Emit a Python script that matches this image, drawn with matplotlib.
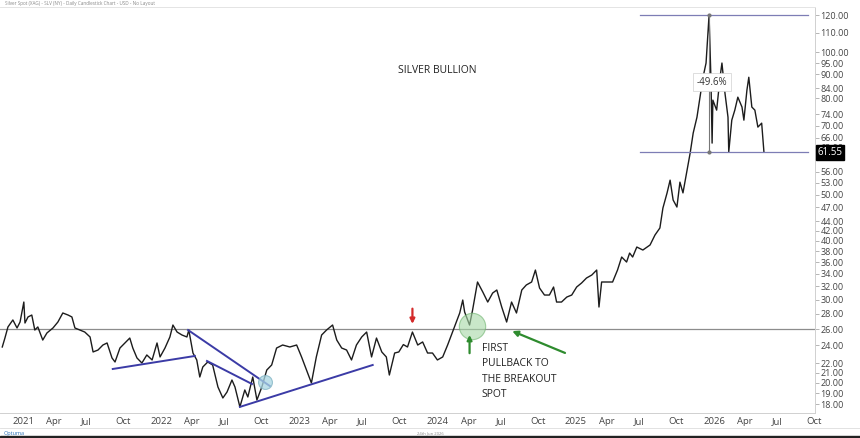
import matplotlib
matplotlib.use('Agg')
import matplotlib.pyplot as plt
import pandas as pd
from matplotlib.ticker import FixedLocator, FuncFormatter, NullLocator
from matplotlib.lines import Line2D
from matplotlib.patches import Rectangle

plt.rcParams['font.family'] = ['Open Sans', 'DejaVu Sans']

# ---- price path ----
dates = [
    '2020-12-06', '2020-12-13', '2020-12-21', '2021-01-03', '2021-01-14', '2021-01-22', '2021-02-01', '2021-02-04',
    '2021-02-12', '2021-02-22', '2021-03-02', '2021-03-10', '2021-03-23', '2021-04-03', '2021-04-19', '2021-05-02',
    '2021-05-15', '2021-05-29', '2021-06-08', '2021-06-16', '2021-06-29', '2021-07-12', '2021-07-26', '2021-08-03',
    '2021-08-16', '2021-08-29', '2021-09-09', '2021-09-22', '2021-09-30', '2021-10-13', '2021-10-26', '2021-11-08',
    '2021-11-16', '2021-11-27', '2021-12-10', '2021-12-23', '2022-01-06', '2022-01-19', '2022-01-27', '2022-02-09',
    '2022-02-22', '2022-03-02', '2022-03-13', '2022-03-26', '2022-04-08', '2022-04-13', '2022-04-24', '2022-05-04',
    '2022-05-12', '2022-05-20', '2022-06-02', '2022-06-15', '2022-06-29', '2022-07-12', '2022-07-23', '2022-08-05',
    '2022-08-13', '2022-08-26', '2022-09-08', '2022-09-16', '2022-09-29', '2022-10-10', '2022-10-23', '2022-11-05',
    '2022-11-18', '2022-12-01', '2022-12-17', '2023-01-05', '2023-01-23', '2023-02-05', '2023-02-18', '2023-03-03',
    '2023-03-16', '2023-03-30', '2023-04-12', '2023-04-28', '2023-05-09', '2023-05-22', '2023-06-04', '2023-06-17',
    '2023-06-30', '2023-07-14', '2023-07-27', '2023-08-09', '2023-08-22', '2023-09-05', '2023-09-17', '2023-09-25',
    '2023-10-09', '2023-10-20', '2023-11-01', '2023-11-12', '2023-11-25', '2023-12-09', '2023-12-22', '2024-01-04',
    '2024-01-17', '2024-01-30', '2024-02-13', '2024-02-26', '2024-03-07', '2024-03-15', '2024-03-29', '2024-04-06',
    '2024-04-11', '2024-04-24', '2024-05-02', '2024-05-15', '2024-05-29', '2024-06-11', '2024-06-24', '2024-07-05',
    '2024-07-18', '2024-07-31', '2024-08-13', '2024-08-26', '2024-09-09', '2024-09-21', '2024-10-05', '2024-10-15',
    '2024-10-26', '2024-11-08', '2024-11-21', '2024-12-02', '2024-12-10', '2024-12-23', '2025-01-06', '2025-01-19',
    '2025-02-01', '2025-02-14', '2025-02-27', '2025-03-13', '2025-03-26', '2025-04-01', '2025-04-08', '2025-04-24',
    '2025-05-07', '2025-05-20', '2025-05-31', '2025-06-13', '2025-06-21', '2025-06-29', '2025-07-10', '2025-07-26',
    '2025-08-14', '2025-08-27', '2025-09-09', '2025-09-17', '2025-09-28', '2025-10-06', '2025-10-14', '2025-10-24',
    '2025-11-01', '2025-11-09', '2025-11-20', '2025-11-28', '2025-12-06', '2025-12-16', '2025-12-24', '2026-01-01',
    '2026-01-09', '2026-01-14', '2026-01-17', '2026-01-22', '2026-01-25', '2026-01-27', '2026-02-06', '2026-02-15',
    '2026-02-20', '2026-02-28', '2026-03-08', '2026-03-10', '2026-03-18', '2026-03-26', '2026-04-03', '2026-04-14',
    '2026-04-19', '2026-04-27', '2026-05-02', '2026-05-10', '2026-05-18', '2026-05-26', '2026-06-05', '2026-06-11',
]
prices = [
    23.82, 24.88, 26.26, 27.17, 26.13, 26.90, 29.65, 26.77,
    27.57, 27.83, 25.87, 26.26, 24.64, 25.50, 26.13, 26.90,
    28.11, 27.83, 27.57, 26.13, 25.87, 25.62, 25.01, 23.25,
    23.47, 24.05, 24.29, 22.58, 22.14, 23.70, 24.29, 24.88,
    23.70, 22.58, 22.03, 22.91, 22.36, 24.29, 22.69, 23.70,
    25.01, 26.51, 25.62, 25.25, 25.01, 25.87, 23.13, 22.36,
    20.58, 21.61, 22.14, 21.82, 19.60, 18.58, 19.13, 20.28,
    19.60, 17.79, 19.32, 18.67, 20.58, 18.40, 19.60, 21.29,
    21.82, 23.70, 24.05, 23.82, 24.05, 22.69, 21.29, 19.99,
    22.69, 25.25, 25.87, 26.51, 24.64, 23.70, 23.47, 22.36,
    24.05, 25.01, 25.62, 22.69, 24.88, 23.25, 22.69, 20.78,
    23.13, 23.25, 24.10, 23.82, 25.62, 24.05, 24.41, 23.13,
    23.13, 22.36, 22.69, 24.05, 25.25, 26.26, 28.11, 29.94,
    28.24, 26.51, 28.52, 32.69, 31.13, 29.65, 30.98, 31.44,
    28.94, 26.90, 29.65, 28.11, 31.44, 32.22, 32.69, 34.65,
    31.74, 30.68, 30.68, 31.90, 29.65, 29.65, 30.38, 30.68,
    31.90, 32.53, 33.33, 33.82, 34.65, 28.94, 32.69, 32.69,
    32.69, 34.65, 36.92, 36.03, 37.64, 36.92, 38.76, 38.20,
    39.15, 41.09, 42.53, 46.87, 50.46, 53.69, 48.74, 47.10,
    53.17, 50.46, 56.40, 61.27, 67.53, 72.97, 80.44, 88.63,
    94.99, 109.86, 120.00, 87.37, 64.31, 79.29, 75.52, 88.63,
    94.99, 82.02, 72.97, 61.57, 71.92, 75.52, 80.44, 76.66,
    71.92, 83.24, 88.63, 76.66, 75.52, 69.52, 70.87, 61.55,
]

breakout_level = 26.0
peak_price = 120.0
last_price = 61.55
drawdown_label = '-49.6%'
price_ticks = [18, 19, 20, 21, 22, 24, 26, 28, 30, 32, 34, 36, 38, 40, 42, 44, 47, 50,
               53, 56, 60, 63, 66, 70, 74, 80, 84, 90, 95, 100, 110, 120]

# trendlines (start date, start price, end date, end price)
trendlines = [
    ('2021-09-24', 21.40, '2022-04-29', 22.80),
    ('2022-04-11', 25.87, '2022-11-13', 19.70),
    ('2022-05-31', 22.25, '2022-09-27', 19.89),
    ('2022-08-26', 17.79, '2023-08-12', 21.82),
]

T = pd.Timestamp

fig = plt.figure(figsize=(8.6, 4.38), dpi=100)
ax = fig.add_axes([0.0, 0.0571, 0.9477, 0.984 - 0.0571])

ax.plot(pd.to_datetime(dates), prices, color='#1c1c1c', lw=1.0, zorder=3)

ax.set_yscale('log')
ax.set_ylim(17.27, 124.8)
ax.set_xlim(T('2020-11-30'), T('2026-10-24'))

# y axis on right
ax.yaxis.tick_right()
ax.yaxis.set_major_locator(FixedLocator(price_ticks))
ax.yaxis.set_major_formatter(FuncFormatter(lambda v, p: f'{v:.2f}'))
ax.yaxis.set_minor_locator(NullLocator())
ax.tick_params(axis='y', which='major', length=3, width=0.6, color='#aaaaaa',
               labelsize=6.5, labelcolor='#444444', pad=1)

# x axis quarters
qt = pd.date_range('2021-01-01', '2026-10-01', freq='QS')
xlabels = [str(t.year) if t.month == 1 else t.strftime('%b') for t in qt]
ax.set_xticks(qt)
ax.set_xticklabels(xlabels, ha='left')
ax.tick_params(axis='x', length=0, labelsize=6.8, labelcolor='#444444', pad=3)

for s in ['left']:
    ax.spines[s].set_visible(False)
ax.spines['top'].set_color('#e4e4e4')
ax.spines['right'].set_color('#d0d0d0')
ax.spines['bottom'].set_color('#d0d0d0')
for s in ['top', 'right', 'bottom']:
    ax.spines[s].set_linewidth(0.7)

# breakout horizontal
ax.axhline(breakout_level, color='#8c8c8c', lw=0.9, zorder=2)

# trendlines
for d0, p0, d1, p1 in trendlines:
    ax.plot([T(d0), T(d1)], [p0, p1], color='#3b3ba6', lw=1.4, zorder=4)

# circles
ax.scatter([T('2022-10-31')], [20.09], s=100, facecolor='#a9d6e2', edgecolor='#7fb2c2',
           alpha=0.75, lw=0.8, zorder=5)
ax.scatter([T('2024-04-30')], [26.38], s=360, facecolor='#a6d8a6', edgecolor='#6cb26c',
           alpha=0.6, lw=0.8, zorder=5)

# arrows
ax.annotate('', xy=(T('2023-11-25'), 26.3), xytext=(T('2023-11-25'), 29.1),
            arrowprops=dict(arrowstyle='-|>', color='#d42a2a', lw=1.6, mutation_scale=7),
            zorder=6)
ax.annotate('', xy=(T('2024-04-24'), 25.6), xytext=(T('2024-04-24'), 22.8),
            arrowprops=dict(arrowstyle='-|>', color='#2e8b2e', lw=1.6, mutation_scale=7),
            zorder=6)
ax.annotate('', xy=(T('2024-08-08'), 25.87), xytext=(T('2025-01-08'), 23.02),
            arrowprops=dict(arrowstyle='-|>', color='#2e8b2e', lw=1.6, mutation_scale=8),
            zorder=6)

# texts
ax.text(T('2024-05-26'), 24.3, 'FIRST\nPULLBACK TO\nTHE BREAKOUT\nSPOT', ha='left', va='top',
        fontsize=7.5, color='#222222', linespacing=1.55, zorder=6)
ax.text(T('2024-01-30'), 91.75, 'SILVER BULLION', ha='center', va='center',
        fontsize=7.5, color='#222222')

# measurement tool
m0, m1 = T('2025-07-18'), T('2026-10-05')
ax.plot([m0, m1], [peak_price, peak_price], color='#7d7db5', lw=0.9, zorder=4)
ax.plot([m0, m1], [last_price, last_price], color='#7d7db5', lw=0.9, zorder=4)
ax.plot([T('2026-01-17'), T('2026-01-17')], [peak_price, last_price], color='#777777',
        lw=0.8, zorder=4, marker='o', ms=2)
ax.text(T('2026-01-25'), 86.5, drawdown_label, ha='center', va='center', fontsize=7,
        color='#333333', zorder=7,
        bbox=dict(facecolor='white', edgecolor='#d0d0d0', boxstyle='square,pad=0.35', lw=0.5))

# last price tag
ax.text(1.003, last_price, f'{last_price:.2f}', transform=ax.get_yaxis_transform(),
        ha='left', va='center', fontsize=7, color='white', zorder=10, clip_on=False,
        bbox=dict(facecolor='black', edgecolor='black', boxstyle='square,pad=0.2'))

# header / footer
fig.text(0.006, 1 - 4 / 438, 'Silver Spot (XAG) - SLV (NY) - Daily Candlestick Chart - USD - No Layout',
         fontsize=3.3, color='#888888', va='center')
fig.add_artist(Line2D([0, 1], [1 - 428 / 438] * 2, color='#dddddd', lw=0.6))
fig.text(0.004, 1 - 433 / 438, 'Optuma', fontsize=4, color='#2a6fb5', va='center')
fig.text(0.5, 1 - 433 / 438, '24th Jun 2026', fontsize=3, color='#888888', va='center', ha='center')
fig.patches.append(Rectangle((0, 0), 1, 2 / 438, transform=fig.transFigure, color='#222222'))

fig.savefig('out.png', dpi=100)
